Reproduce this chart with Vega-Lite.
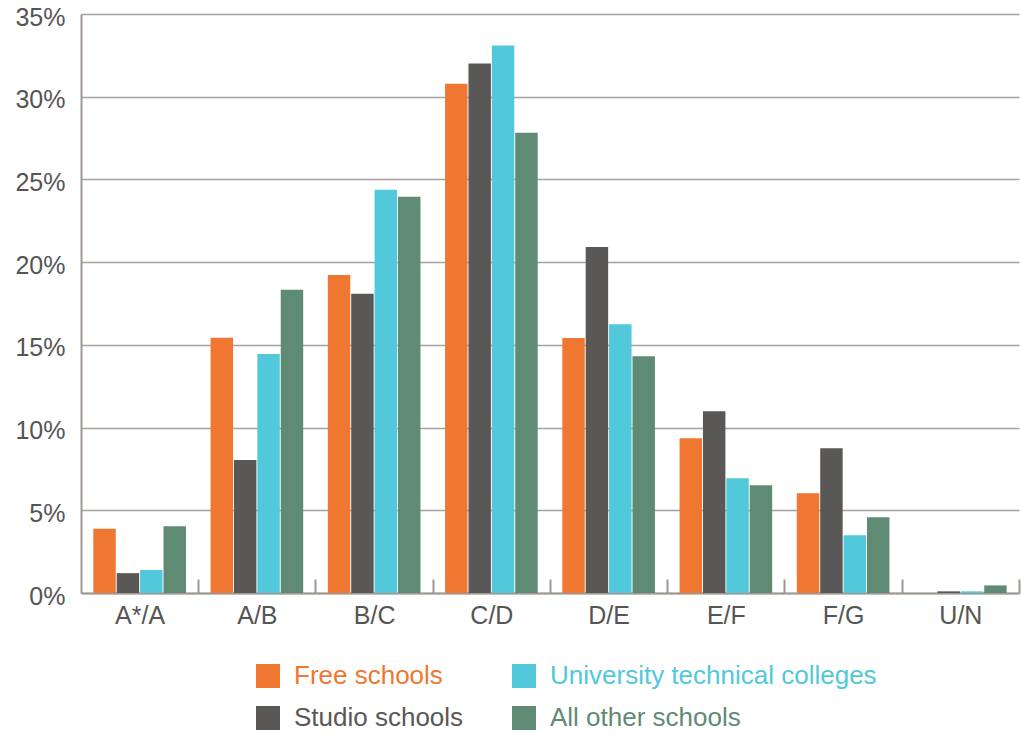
{
  "$schema": "https://vega.github.io/schema/vega-lite/v6.json",
  "width": 938,
  "height": 579,
  "autosize": {"type": "none"},
  "padding": {"left": 81, "top": 14, "right": 2, "bottom": 140},
  "background": "white",
  "config": {
    "view": {"stroke": null},
    "font": "Liberation Sans",
    "axis": {"labelFont": "Liberation Sans", "labelColor": "#555555", "labelFontSize": 25}
  },
  "data": {
    "values": [
      {"grade": "A*/A", "school": "Free schools", "value": 3.88},
      {"grade": "A*/A", "school": "Studio schools", "value": 1.2},
      {"grade": "A*/A", "school": "University technical colleges", "value": 1.39},
      {"grade": "A*/A", "school": "All other schools", "value": 4.04},
      {"grade": "A/B", "school": "Free schools", "value": 15.43},
      {"grade": "A/B", "school": "Studio schools", "value": 8.04},
      {"grade": "A/B", "school": "University technical colleges", "value": 14.45},
      {"grade": "A/B", "school": "All other schools", "value": 18.33},
      {"grade": "B/C", "school": "Free schools", "value": 19.23},
      {"grade": "B/C", "school": "Studio schools", "value": 18.09},
      {"grade": "B/C", "school": "University technical colleges", "value": 24.38},
      {"grade": "B/C", "school": "All other schools", "value": 23.95},
      {"grade": "C/D", "school": "Free schools", "value": 30.79},
      {"grade": "C/D", "school": "Studio schools", "value": 32.01},
      {"grade": "C/D", "school": "University technical colleges", "value": 33.09},
      {"grade": "C/D", "school": "All other schools", "value": 27.82},
      {"grade": "D/E", "school": "Free schools", "value": 15.41},
      {"grade": "D/E", "school": "Studio schools", "value": 20.92},
      {"grade": "D/E", "school": "University technical colleges", "value": 16.25},
      {"grade": "D/E", "school": "All other schools", "value": 14.31},
      {"grade": "E/F", "school": "Free schools", "value": 9.35},
      {"grade": "E/F", "school": "Studio schools", "value": 10.99},
      {"grade": "E/F", "school": "University technical colleges", "value": 6.94},
      {"grade": "E/F", "school": "All other schools", "value": 6.51},
      {"grade": "F/G", "school": "Free schools", "value": 6.03},
      {"grade": "F/G", "school": "Studio schools", "value": 8.75},
      {"grade": "F/G", "school": "University technical colleges", "value": 3.49},
      {"grade": "F/G", "school": "All other schools", "value": 4.58},
      {"grade": "U/N", "school": "Free schools", "value": 0},
      {"grade": "U/N", "school": "Studio schools", "value": 0.1},
      {"grade": "U/N", "school": "University technical colleges", "value": 0.1},
      {"grade": "U/N", "school": "All other schools", "value": 0.46}
    ]
  },
  "mark": {"type": "bar"},
  "encoding": {
    "x": {
      "field": "grade",
      "type": "nominal",
      "sort": ["A*/A", "A/B", "B/C", "C/D", "D/E", "E/F", "F/G", "U/N"],
      "scale": {"paddingInner": 0.21, "paddingOuter": 0.105},
      "axis": {
        "title": null,
        "labelAngle": 0,
        "domainColor": "#9e9792",
        "domainWidth": 2,
        "bandPosition": 1,
        "tickExtra": false,
        "tickOffset": 12.3,
        "labelOffset": -12.3,
        "tickColor": "#9e9792",
        "tickWidth": 2,
        "tickSize": -14,
        "labelPadding": 24,
        "labelBaseline": "top"
      }
    },
    "xOffset": {
      "field": "school",
      "sort": ["Free schools", "Studio schools", "University technical colleges", "All other schools"],
      "scale": {"paddingInner": 0.04}
    },
    "y": {
      "field": "value",
      "type": "quantitative",
      "scale": {"domain": [0, 35], "nice": false},
      "axis": {
        "title": null,
        "values": [0, 5, 10, 15, 20, 25, 30, 35],
        "labelExpr": "datum.value + '%'",
        "ticks": false,
        "labelPadding": 16,
        "labelOffset": 3,
        "domainColor": "#9e9792",
        "domainWidth": 2,
        "gridColor": "#a8a19c",
        "gridWidth": 1.5,
        "gridOpacity": 1
      }
    },
    "color": {
      "field": "school",
      "type": "nominal",
      "scale": {
        "domain": ["Free schools", "Studio schools", "University technical colleges", "All other schools"],
        "range": ["#f07731", "#5a5856", "#52c8db", "#5f8b74"]
      },
      "legend": {
        "title": null,
        "orient": "none",
        "legendX": 174,
        "legendY": 649,
        "direction": "horizontal",
        "columns": 2,
        "values": ["Free schools", "University technical colleges", "Studio schools", "All other schools"],
        "symbolType": "square",
        "symbolSize": 576,
        "symbolOpacity": 1,
        "symbolStrokeWidth": 0,
        "labelFont": "Liberation Sans",
        "labelFontSize": 26,
        "labelOffset": 13,
        "labelLimit": 500,
        "columnPadding": 47,
        "rowPadding": 16,
        "padding": 0,
        "encode": {
          "labels": {"update": {"fill": {"scale": "color", "field": "value"}}}
        }
      }
    }
  }
}
